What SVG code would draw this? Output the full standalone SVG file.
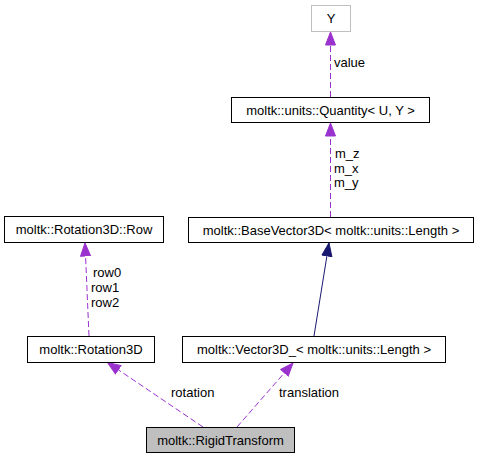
<svg xmlns="http://www.w3.org/2000/svg" width="479" height="459" viewBox="0 0 479 459">
<defs>
<style>
text{font-family:"Liberation Sans",Arial,sans-serif;font-size:13px;fill:#000}
.box{fill:#fff;stroke:#000;stroke-width:1}
.lbl{text-anchor:middle}
.dep{fill:none;stroke:#9a32cd;stroke-width:1;stroke-dasharray:6,3}
.inh{fill:none;stroke:#191970;stroke-width:1}
</style>
<marker id="ap" markerUnits="userSpaceOnUse" markerWidth="14" markerHeight="12" refX="13.5" refY="6" orient="auto">
<path d="M0.5,1 L13.5,6 L0.5,11 z" fill="#9a32cd" stroke="#9a32cd"/>
</marker>
<marker id="an" markerUnits="userSpaceOnUse" markerWidth="14" markerHeight="12" refX="13.5" refY="6" orient="auto">
<path d="M0.5,1 L13.5,6 L0.5,11 z" fill="#191970" stroke="#191970"/>
</marker>
</defs>
<rect width="479" height="459" fill="#fff"/>
<g id="connectors">
<path class="dep" d="M330.5,97 L330.5,32" marker-end="url(#ap)"/>
<text x="334" y="67">value</text>
<path class="dep" d="M330.5,217 L330.5,123" marker-end="url(#ap)"/>
<text x="335" y="158">m_z</text>
<text x="334" y="173">m_x</text>
<text x="334" y="187">m_y</text>
<path class="dep" d="M89,336 L85,243" marker-end="url(#ap)"/>
<text x="93" y="277">row0</text>
<text x="91" y="292">row1</text>
<text x="91" y="307">row2</text>
<path class="inh" d="M314,336 L329,243" marker-end="url(#an)"/>
<path class="dep" d="M203,427 L107.5,362.5" marker-end="url(#ap)"/>
<text x="171" y="397">rotation</text>
<path class="dep" d="M237,427 L293,363" marker-end="url(#ap)"/>
<text x="279" y="397">translation</text>
</g>
<g id="node-Y">
<rect x="311.5" y="5.5" width="39" height="26" fill="#fff" stroke="#bfbfbf"/>
<text class="lbl" x="331" y="23">Y</text>
</g>
<g id="node-Quantity">
<rect class="box" x="231.5" y="97.5" width="198" height="25"/>
<text class="lbl" x="330.5" y="114.5">moltk::units::Quantity&lt; U, Y &gt;</text>
</g>
<g id="node-BaseVector3D">
<rect class="box" x="188.5" y="217.5" width="285" height="25"/>
<text class="lbl" x="331" y="234.5">moltk::BaseVector3D&lt; moltk::units::Length &gt;</text>
</g>
<g id="node-Row">
<rect class="box" x="4.5" y="216.5" width="159" height="26"/>
<text class="lbl" x="84" y="234">moltk::Rotation3D::Row</text>
</g>
<g id="node-Rotation3D">
<rect class="box" x="27.5" y="336.5" width="127" height="26"/>
<text class="lbl" x="91" y="353.5">moltk::Rotation3D</text>
</g>
<g id="node-Vector3D">
<rect class="box" x="182.5" y="336.5" width="263" height="26"/>
<text class="lbl" x="314" y="353.5">moltk::Vector3D_&lt; moltk::units::Length &gt;</text>
</g>
<g id="node-RigidTransform">
<rect x="146.5" y="427.5" width="148" height="25" fill="#bfbfbf" stroke="#000"/>
<text class="lbl" x="220.5" y="444.5">moltk::RigidTransform</text>
</g>
</svg>
